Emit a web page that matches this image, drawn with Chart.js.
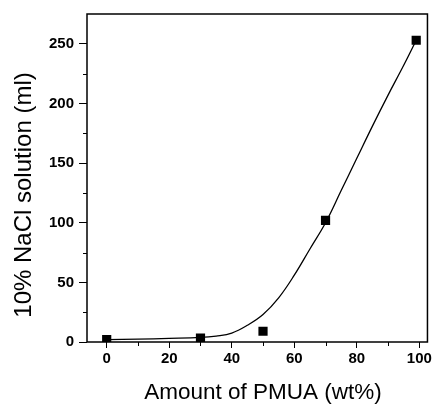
<!DOCTYPE html>
<html>
<head>
<meta charset="utf-8">
<script src="https://cdn.jsdelivr.net/npm/chart.js@4/dist/chart.umd.min.js"></script>
<style>
    html, body {
        margin: 0;
        padding: 0;
        background: #ffffff;
    }

    .chart-box {
        position: relative;
        width: 434px;
        height: 404px;
    }
</style>
</head>
<body>
<div class="chart-box">
    <canvas id="naclChart"></canvas>
</div>
<script>
const pmuaAmount = [0, 30, 50, 70, 99];
const naclVolume = [2, 3.3, 9, 102, 253];

const fitAmount = [0, 10, 20, 30, 35, 40, 45, 50, 55, 60, 65, 70, 75, 80, 85, 90, 95, 99];
const fitVolume = [2, 2.4, 3, 3.8, 5, 7.5, 14, 23, 37, 56, 78, 100, 127, 154, 181, 207, 232, 253];

const xMajorTicks = [0, 20, 40, 60, 80, 100];
const xMinorTicks = [10, 30, 50, 70, 90];
const yMajorTicks = [0, 50, 100, 150, 200, 250];
const yMinorTicks = [25, 75, 125, 175, 225];

const xTitle = "Amount of PMUA (wt%)";
const yTitle = "10% NaCl solution (ml)";

// box round the plot, short minor ticks and the two axis titles
const frameAndTitles = {
    id: "frameAndTitles",
    afterDraw(chart) {
        const { ctx, chartArea, scales } = chart;
        ctx.save();
        ctx.strokeStyle = "#000000";
        ctx.lineWidth = 1.5;
        ctx.strokeRect(chartArea.left, chartArea.top, chartArea.right - chartArea.left, chartArea.bottom - chartArea.top);

        ctx.lineWidth = 1;
        ctx.beginPath();
        xMinorTicks.forEach((value) => {
            const x = Math.round(scales.x.getPixelForValue(value)) + 0.5;
            ctx.moveTo(x, chartArea.bottom);
            ctx.lineTo(x, chartArea.bottom + 4);
        });
        yMinorTicks.forEach((value) => {
            const y = Math.round(scales.y.getPixelForValue(value)) + 0.5;
            ctx.moveTo(chartArea.left, y);
            ctx.lineTo(chartArea.left - 4, y);
        });
        ctx.stroke();

        ctx.fillStyle = "#000000";
        ctx.textAlign = "center";
        ctx.textBaseline = "middle";
        ctx.font = "22.5px 'Liberation Sans', Arial, sans-serif";
        ctx.fillText(xTitle, 263, 393);

        ctx.translate(24, 195);
        ctx.rotate(-Math.PI / 2);
        ctx.font = "24px 'Liberation Sans', Arial, sans-serif";
        ctx.fillText(yTitle, 0, 0);
        ctx.restore();
    }
};

function initializeChart() {
    const canvas = document.getElementById("naclChart");

    Chart.defaults.font.family = "'Liberation Sans', Arial, sans-serif";
    Chart.defaults.color = "#000000";

    new Chart(canvas.getContext("2d"), {
        type: "scatter",
        data: {
            datasets: [{
                label: "Fit",
                data: fitAmount.map((x, i) => ({ x, y: fitVolume[i] })),
                showLine: true,
                borderColor: "#000000",
                borderWidth: 1.3,
                pointRadius: 0,
                tension: 0.4,
                fill: false
            }, {
                label: "10% NaCl solution",
                data: pmuaAmount.map((x, i) => ({ x, y: naclVolume[i] })),
                pointStyle: "rect",
                pointRadius: 6.5,
                backgroundColor: "#000000",
                borderColor: "#000000",
                borderWidth: 0,
                showLine: false
            }]
        },
        options: {
            responsive: true,
            maintainAspectRatio: false,
            animation: false,
            layout: {
                padding: { top: 12, right: 5, left: 0, bottom: 0 }
            },
            plugins: {
                legend: { display: false },
                tooltip: { enabled: false }
            },
            scales: {
                x: {
                    type: "linear",
                    min: -6.3,
                    max: 102.6,
                    afterBuildTicks(scale) {
                        scale.ticks = xMajorTicks.map((value) => ({ value }));
                    },
                    afterFit(scale) {
                        scale.height = 62;
                    },
                    border: { display: false },
                    grid: {
                        drawOnChartArea: false,
                        tickLength: 6,
                        tickColor: "#000000",
                        tickWidth: 1
                    },
                    ticks: {
                        padding: 2,
                        maxRotation: 0,
                        font: { size: 15, weight: "bold" },
                        color: "#000000"
                    }
                },
                y: {
                    type: "linear",
                    min: 0,
                    max: 275,
                    afterBuildTicks(scale) {
                        scale.ticks = yMajorTicks.map((value) => ({ value }));
                    },
                    afterFit(scale) {
                        scale.width = 87;
                    },
                    border: { display: false },
                    grid: {
                        drawOnChartArea: false,
                        tickLength: 8,
                        tickColor: "#000000",
                        tickWidth: 1
                    },
                    ticks: {
                        padding: 5,
                        font: { size: 15, weight: "bold" },
                        color: "#000000"
                    }
                }
            }
        },
        plugins: [frameAndTitles]
    });
}

document.addEventListener("DOMContentLoaded", () => {
    initializeChart();
});
</script>
</body>
</html>
